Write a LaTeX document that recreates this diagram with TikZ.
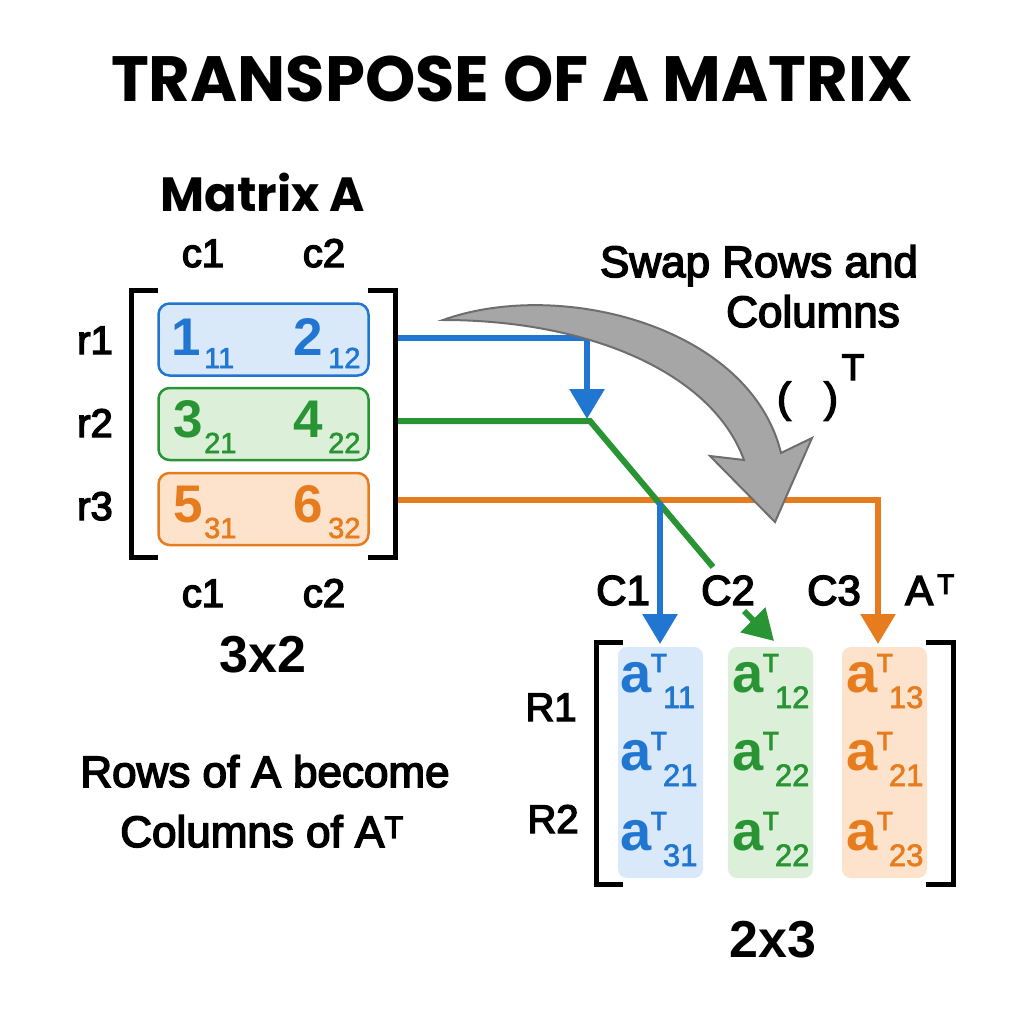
\documentclass[tikz,border=0pt]{standalone}
\usepackage{fontspec}
\setmainfont{Liberation Sans}
\newfontfamily\popf{Poppins}
\newfontfamily\medf{Liberation Sans}[FakeBold=3.5]
\newfontfamily\subf{Liberation Sans}[FakeBold=2]
\usetikzlibrary{arrows.meta}
\definecolor{cblue}{RGB}{33,118,210}
\definecolor{cgreen}{RGB}{40,148,52}
\definecolor{corange}{RGB}{230,124,30}
\definecolor{fblue}{RGB}{218,233,250}
\definecolor{fgreen}{RGB}{220,239,216}
\definecolor{forange}{RGB}{253,226,204}
\definecolor{gfill}{RGB}{166,166,166}
\definecolor{gdraw}{RGB}{110,110,110}
\tikzset{
  lab/.style={anchor=base,inner sep=0pt,font=\fontsize{40}{40}\selectfont\medf},
  txt/.style={anchor=base,inner sep=0pt,font=\fontsize{44}{44}\selectfont\medf},
  big/.style={anchor=base,inner sep=0pt,text=#1,font=\fontsize{53}{53}\selectfont\bfseries},
  sub/.style={anchor=base west,inner sep=0pt,text=#1,font=\fontsize{29}{29}\selectfont\subf},
  rowbox/.style={draw=#1,line width=2.5pt,rounded corners=11pt},
  colbox/.style={fill=#1,rounded corners=9pt},
  brk/.style={line width=5pt,black},
  conn/.style={line width=6pt,draw=#1},
  tip/.style={-{Triangle[width=34pt,length=30pt]}},
}
\newcommand{\aent}[5]{% name, center x, baseline, sub, color
  \node[anchor=base,inner sep=0pt,text=#5,font=\fontsize{56}{56}\selectfont\bfseries] (#1) at (#2,#3) {a};
  \node[anchor=base west,inner sep=0pt,text=#5,font=\fontsize{26}{26}\selectfont\medf] (#1t) at ([xshift=-1pt,yshift=20pt]#1.base east) {T};
  \node[anchor=base west,inner sep=0pt,text=#5,font=\fontsize{31}{31}\selectfont\subf] (#1s) at ([xshift=11pt,yshift=-16pt]#1.base east) {#4};
}
\begin{document}
\begin{tikzpicture}[x=1pt,y=-1pt]
\useasboundingbox[fill=white] (0,0) rectangle (1024,1024);

% title
\node[anchor=base,inner sep=0pt,font=\fontsize{64}{64}\selectfont\popf\bfseries] (title) at (512,102) {TRANSPOSE OF A MATRIX};

% Matrix A
\node[anchor=base,inner sep=0pt,font=\fontsize{48}{48}\selectfont\popf\bfseries] (mA) at (263,212) {Matrix A};
\node[lab] (c1t) at (203,267) {c1};
\node[lab] (c2t) at (324,267) {c2};
\node[lab] (r1) at (95,354) {r1};
\node[lab] (r2) at (95,437) {r2};
\node[lab] (r3) at (95,520) {r3};
\node[lab] (c1b) at (203,607) {c1};
\node[lab] (c2b) at (324,607) {c2};
\node[anchor=base,inner sep=0pt,font=\fontsize{52}{52}\selectfont\bfseries] (d32) at (263,672) {3x2};

% row boxes
\node[rowbox=cblue,fill=fblue,minimum width=210pt,minimum height=72pt] (row1) at (263.5,339.5) {};
\node[rowbox=cgreen,fill=fgreen,minimum width=210pt,minimum height=72pt] (row2) at (263.5,424) {};
\node[rowbox=corange,fill=forange,minimum width=210pt,minimum height=72pt] (row3) at (263.5,509) {};

% brackets
\draw[brk] (158,290) -- (131,290) -- (131,557) -- (158,557);
\draw[brk] (368,290) -- (395,290) -- (395,557) -- (368,557);

% entries
\node[big=cblue] (n1) at (186,355) {1};
\node[sub=cblue] (n1s) at (204,368) {11};
\node[big=cblue] (n2) at (308,355) {2};
\node[sub=cblue] (n2s) at (328,368) {12};
\node[big=cgreen] (n3) at (188,437) {3};
\node[sub=cgreen] (n3s) at (204,453) {21};
\node[big=cgreen] (n4) at (308,437) {4};
\node[sub=cgreen] (n4s) at (328,453) {22};
\node[big=corange] (n5) at (188,522) {5};
\node[sub=corange] (n5s) at (204,538) {31};
\node[big=corange] (n6) at (308,522) {6};
\node[sub=corange] (n6s) at (328,538) {32};

% bottom-left text
\node[txt] (rowsA) at (265,787) {Rows of A become};
\node[txt] (colsA) at (262,847) {Columns of A\textsuperscript{T}};

% swap text
\node[txt] (swap1) at (759,277) {Swap Rows and};
\node[txt] (swap2) at (813,327) {Columns};
\node[anchor=base,inner sep=0pt,font=\fontsize{42}{42}\selectfont\medf] (lp) at (784,412) {(};
\node[anchor=base,inner sep=0pt,font=\fontsize{42}{42}\selectfont\medf] (rp) at (831,412) {)};
\node[anchor=base,inner sep=0pt,font=\fontsize{37}{37}\selectfont\medf] (parT) at (853,380) {T};

% coordinates for connectors
\coordinate (b1) at (398,338);
\coordinate (b2) at (587,338);
\coordinate (b3) at (587,419);
\coordinate (g1) at (398,421);
\coordinate (g2) at (590,421);
\coordinate (g3) at (713,567);
\coordinate (g4) at (744,611);
\coordinate (g5) at (774,641);
\coordinate (o1) at (398,500);
\coordinate (o2) at (878,500);
\coordinate (o3) at (878,644);
\coordinate (bb1) at (660,502);
\coordinate (bb2) at (660,644);

% connectors
\draw[conn=corange,tip] (o1) -- (o2) -- (o3);
\draw[conn=cgreen] (g1) -- (g2) -- (g3);
\draw[conn=cgreen,tip] (g4) -- (g5);
\draw[conn=cblue,tip] (b1) -- (b2) -- (b3);
\draw[conn=cblue,tip] (bb1) -- (bb2);

% gray curved arrow
\draw[fill=gfill,draw=gdraw,line width=2pt,line join=miter]
  (443,320) .. controls (560,278) and (750,326) .. (781,453)
  -- (812,438) -- (775,522) -- (710,456) -- (744,460)
  .. controls (712,372) and (588,320) .. (443,320) -- cycle;

% right labels
\node[lab,font=\fontsize{42}{42}\selectfont\medf] (C1) at (623,605) {C1};
\node[lab,font=\fontsize{42}{42}\selectfont\medf] (C2) at (728,605) {C2};
\node[lab,font=\fontsize{42}{42}\selectfont\medf] (C3) at (834,605) {C3};
\node[anchor=base west,inner sep=0pt,font=\fontsize{42}{42}\selectfont\medf] (AT) at (905,605) {A};
\node[anchor=base west,inner sep=0pt,font=\fontsize{28}{28}\selectfont\medf] (ATt) at (937,594) {T};
\node[lab] (R1) at (551,721) {R1};
\node[lab] (R2) at (553,833) {R2};

% column boxes
\node[colbox=fblue,minimum width=85pt,minimum height=231pt] (col1) at (660.5,762.5) {};
\node[colbox=fgreen,minimum width=85pt,minimum height=231pt] (col2) at (770.5,762.5) {};
\node[colbox=forange,minimum width=85pt,minimum height=231pt] (col3) at (884.5,762.5) {};

% right brackets
\draw[brk] (623,642) -- (596,642) -- (596,884) -- (623,884);
\draw[brk] (926,642) -- (953,642) -- (953,884) -- (926,884);

% transposed entries
\aent{t11}{636}{692}{11}{cblue}
\aent{t21}{636}{770}{21}{cblue}
\aent{t31}{636}{850}{31}{cblue}
\aent{t12}{748}{692}{12}{cgreen}
\aent{t22}{748}{770}{22}{cgreen}
\aent{t32}{748}{850}{22}{cgreen}
\aent{t13}{862}{692}{13}{corange}
\aent{t23}{862}{770}{21}{corange}
\aent{t33}{862}{850}{23}{corange}

\node[anchor=base,inner sep=0pt,font=\fontsize{52}{52}\selectfont\bfseries] (d23) at (773,957) {2x3};
\end{tikzpicture}
\end{document}
